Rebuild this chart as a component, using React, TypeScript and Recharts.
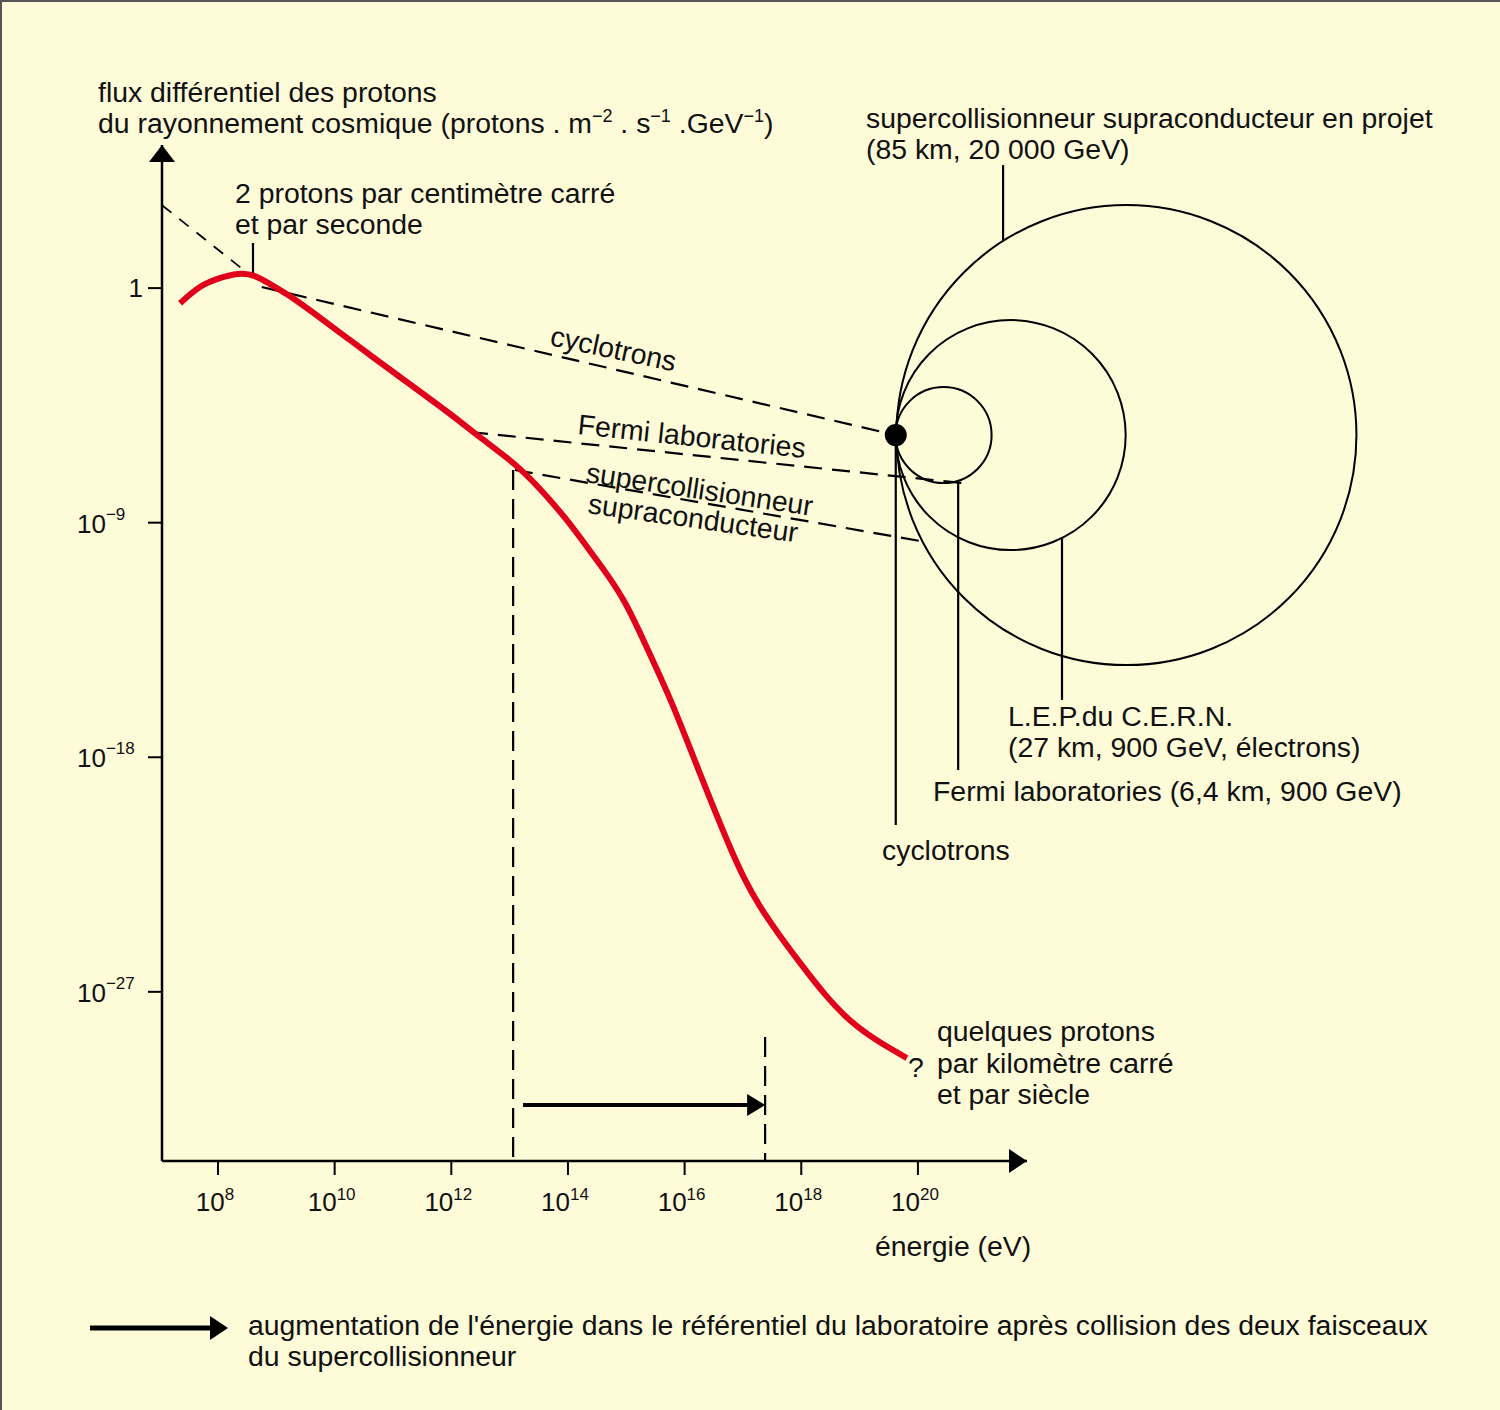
import React from "react";
import {
  ComposedChart,
  Line,
  XAxis,
  YAxis,
  ReferenceLine,
  ReferenceDot,
} from "recharts";

// axes are in powers of ten: x = log10(energy in eV), y = log10(flux)
const energyExp = [
  7.35, 7.69, 8.03, 8.34, 8.63, 8.98, 9.41, 10.26, 11.12, 11.98, 12.49, 13.06,
  13.52, 13.95, 14.34, 14.69, 14.98, 15.23, 15.49, 15.78, 16.09, 16.43, 16.74,
  17.02, 17.29, 17.6, 17.98, 18.4, 18.83, 19.31, 19.81,
];
const fluxExp = [
  -0.58, 0.04, 0.38, 0.54, 0.46, 0.04, -0.58, -1.99, -3.41, -4.83, -5.72, -6.71,
  -7.71, -8.82, -9.97, -11.05, -12.08, -13.2, -14.46, -15.92, -17.64, -19.56,
  -21.25, -22.63, -23.71, -24.74, -25.89, -27.08, -28.08, -28.88, -29.54,
];

const xTicks = [8, 10, 12, 14, 16, 18, 20];
const yTicks = [0, -9, -18, -27];
const xDomain = [7.04, 21.87];
const yDomain = [-33.49, 5.49];

// dashed guides, [energyExp, fluxExp] pairs
const tangentGuide = [[7.04, 3.18], [8.55, 0.5]];
const cyclotronGuide = [[8.75, 0.04], [19.62, -5.64]];
const fermiGuide = [[12.32, -5.52], [20.76, -7.48]];
const sscGuide = [[13.09, -6.98], [20.03, -9.7]];
const sscDrop = [[13.06, -6.98], [13.06, yDomain[0]]];
const collisionDrop = [[17.38, -28.73], [17.38, yDomain[0]]];
const collisionArrow = [[13.23, -31.34], [17.38, -31.34]];

// solid leaders to the labels
const leaders = [
  [[8.6, 1.73], [8.6, 0.5]],
  [[19.62, -5.64], [19.62, -20.6]],
  [[20.69, -7.48], [20.69, -18.49]],
  [[22.47, -9.55], [22.47, -15.8]],
  [[21.46, 1.8], [21.46, 4.72]],
];

// accelerator rings, all touching at the same point
const ringTouch = [19.62, -5.64];
const ringCentreExp = [20.44, 21.59, 23.575];
const ringRadius = [48, 115, 230];

const curve = energyExp.map((e, i) => ({ e, f: fluxExp[i] }));

const FONT = "'Liberation Sans', Arial, sans-serif";
const INK = "#111";

const seg = (p: number[][]) => [
  { x: p[0][0], y: p[0][1] },
  { x: p[1][0], y: p[1][1] },
];

function XTick(props: any) {
  const { x, y, payload } = props;
  return (
    <text x={x - 3} y={y + 34} textAnchor="middle" fontFamily={FONT} fontSize={26} fill={INK}>
      10
      <tspan dy={-11} fontSize={17}>
        {payload.value}
      </tspan>
    </text>
  );
}

function YTick(props: any) {
  const { x, y, payload } = props;
  if (payload.value === 0) {
    return (
      <text x={x - 3} y={y + 9} textAnchor="end" fontFamily={FONT} fontSize={26} fill={INK}>
        1
      </text>
    );
  }
  return (
    <text x={x - 69} y={y + 10} textAnchor="start" fontFamily={FONT} fontSize={26} fill={INK}>
      10
      <tspan dy={-13} fontSize={17}>
        {"\u2212" + Math.abs(payload.value)}
      </tspan>
    </text>
  );
}

const arrowRight = (half: number, len: number) => (p: any) => (
  <polygon
    points={`${p.cx},${p.cy} ${p.cx - len},${p.cy - half} ${p.cx - len},${p.cy + half}`}
    fill="#000"
  />
);
const arrowUp = (p: any) => (
  <polygon
    points={`${p.cx},${p.cy} ${p.cx - 13},${p.cy + 17} ${p.cx + 13},${p.cy + 17}`}
    fill="#000"
  />
);

function Txt({ x, y, children, rot }: { x: number; y: number; children: React.ReactNode; rot?: number }) {
  return (
    <text
      x={x}
      y={y}
      fontFamily={FONT}
      fontSize={28.4}
      fill={INK}
      transform={rot ? `rotate(${rot} ${x} ${y})` : undefined}
    >
      {children}
    </text>
  );
}

export default function App() {
  const dash = "18 10";
  return (
    <div
      style={{
        position: "relative",
        width: 1500,
        height: 1410,
        background: "#FEFBD9",
        boxShadow: "inset 2px 2px 0 #555",
      }}
    >
      <style>{"body{margin:0}"}</style>
      <ComposedChart
        width={1500}
        height={1410}
        data={curve}
        margin={{ top: 145, right: 473, bottom: 189, left: 82 }}
      >
        <XAxis
          dataKey="e"
          type="number"
          domain={xDomain}
          allowDataOverflow
          ticks={xTicks}
          tick={<XTick />}
          tickSize={14}
          height={60}
          axisLine={{ stroke: "#000", strokeWidth: 2.5 }}
          tickLine={{ stroke: "#000", strokeWidth: 2 }}
        />
        <YAxis
          type="number"
          domain={yDomain}
          allowDataOverflow
          ticks={yTicks}
          tick={<YTick />}
          tickSize={14}
          width={80}
          axisLine={{ stroke: "#000", strokeWidth: 2.5 }}
          tickLine={{ stroke: "#000", strokeWidth: 2 }}
        />

        <ReferenceLine segment={seg(tangentGuide)} stroke="#000" strokeWidth={1.8} strokeDasharray="12 10" ifOverflow="visible" />
        <ReferenceLine segment={seg(cyclotronGuide)} stroke="#000" strokeWidth={2.2} strokeDasharray={dash} ifOverflow="visible" />
        <ReferenceLine segment={seg(fermiGuide)} stroke="#000" strokeWidth={2.2} strokeDasharray={dash} ifOverflow="visible" />
        <ReferenceLine segment={seg(sscGuide)} stroke="#000" strokeWidth={2.2} strokeDasharray={dash} ifOverflow="visible" />
        <ReferenceLine segment={seg(sscDrop)} stroke="#000" strokeWidth={2.2} strokeDasharray="20 9" ifOverflow="visible" />
        <ReferenceLine segment={seg(collisionDrop)} stroke="#000" strokeWidth={2.2} strokeDasharray="20 9" ifOverflow="visible" />

        {leaders.map((l, i) => (
          <ReferenceLine key={`lead-${i}`} segment={seg(l)} stroke="#000" strokeWidth={2.2} ifOverflow="visible" />
        ))}

        {ringCentreExp.map((cx, i) => (
          <ReferenceDot
            key={`ring-${i}`}
            x={cx}
            y={ringTouch[1]}
            r={ringRadius[i]}
            fill="none"
            stroke="#000"
            strokeWidth={2}
            ifOverflow="visible"
          />
        ))}
        <ReferenceDot x={ringTouch[0]} y={ringTouch[1]} r={11} fill="#000" stroke="none" ifOverflow="visible" />

        <ReferenceLine
          segment={[
            { x: collisionArrow[0][0], y: collisionArrow[0][1] },
            { x: collisionArrow[1][0] - 0.25, y: collisionArrow[1][1] },
          ]}
          stroke="#000"
          strokeWidth={4}
          ifOverflow="visible"
        />
        <ReferenceDot x={collisionArrow[1][0]} y={collisionArrow[1][1]} shape={arrowRight(11, 18)} ifOverflow="visible" />

        <ReferenceDot x={xDomain[1]} y={yDomain[0]} shape={arrowRight(12, 18)} ifOverflow="visible" />
        <ReferenceDot x={xDomain[0]} y={yDomain[1]} shape={arrowUp} ifOverflow="visible" />

        <Line
          type="natural"
          dataKey="f"
          stroke="#E0001B"
          strokeWidth={6}
          dot={false}
          activeDot={false}
          isAnimationActive={false}
        />
      </ComposedChart>

      <svg
        width={1500}
        height={1410}
        style={{ position: "absolute", left: 0, top: 0, pointerEvents: "none" }}
      >
        <Txt x={98} y={102}>flux différentiel des protons</Txt>
        <Txt x={98} y={133}>
          du rayonnement cosmique (protons . m
          <tspan dy={-11} fontSize={18}>−2</tspan>
          <tspan dy={11}> . s</tspan>
          <tspan dy={-11} fontSize={18}>−1</tspan>
          <tspan dy={11}> .GeV</tspan>
          <tspan dy={-11} fontSize={18}>−1</tspan>
          <tspan dy={11}>)</tspan>
        </Txt>

        <Txt x={235} y={203}>2 protons par centimètre carré</Txt>
        <Txt x={235} y={234}>et par seconde</Txt>

        <Txt x={866} y={128}>supercollisionneur supraconducteur en projet</Txt>
        <Txt x={866} y={159}>(85 km, 20 000 GeV)</Txt>

        <Txt x={549} y={345} rot={12}>cyclotrons</Txt>
        <Txt x={577} y={434} rot={6}>Fermi laboratories</Txt>
        <Txt x={585} y={482} rot={8.5}>supercollisionneur</Txt>
        <Txt x={587} y={513} rot={8}>supraconducteur</Txt>

        <Txt x={1008} y={726}>L.E.P.du C.E.R.N.</Txt>
        <Txt x={1008} y={757}>(27 km, 900 GeV, électrons)</Txt>
        <Txt x={933} y={801}>Fermi laboratories (6,4 km, 900 GeV)</Txt>
        <Txt x={882} y={860}>cyclotrons</Txt>

        <Txt x={908} y={1077}>?</Txt>
        <Txt x={937} y={1041}>quelques protons</Txt>
        <Txt x={937} y={1073}>par kilomètre carré</Txt>
        <Txt x={937} y={1104}>et par siècle</Txt>

        <Txt x={875} y={1256}>énergie (eV)</Txt>

        <line x1={90} y1={1328} x2={212} y2={1328} stroke="#000" strokeWidth={5} />
        <polygon points="228,1328 210,1316 210,1340" fill="#000" />
        <Txt x={248} y={1335}>augmentation de l'énergie dans le référentiel du laboratoire après collision des deux faisceaux</Txt>
        <Txt x={248} y={1366}>du supercollisionneur</Txt>
      </svg>
    </div>
  );
}
